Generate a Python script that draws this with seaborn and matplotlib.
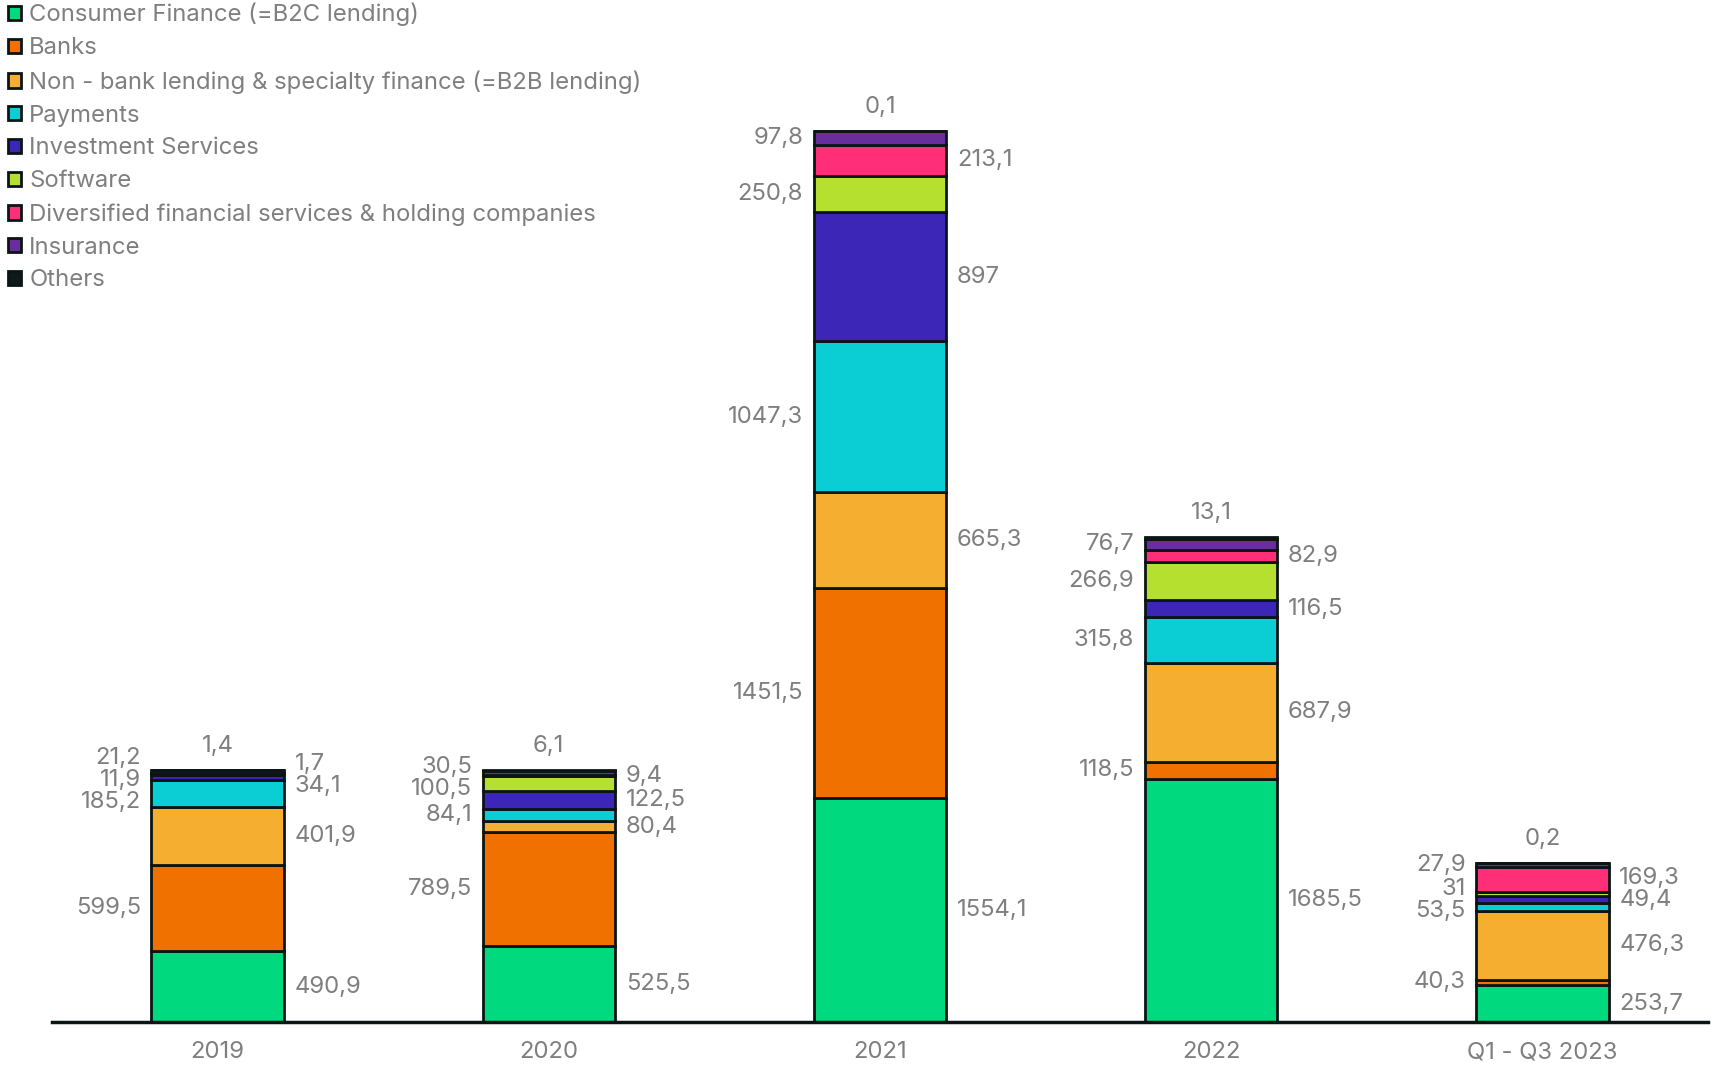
import matplotlib
matplotlib.use("Agg")
import matplotlib.pyplot as plt
import numpy as np
import pandas as pd
import seaborn as sns
from matplotlib.patches import Patch
from matplotlib.ticker import FixedLocator

# Funding volume by segment and period
periods = ["2019", "2020", "2021", "2022", "Q1 - Q3 2023"]
segment_names = [
    "Consumer Finance (=B2C lending)",
    "Banks",
    "Non - bank lending & specialty finance (=B2B lending)",
    "Payments",
    "Investment Services",
    "Software",
    "Diversified financial services & holding companies",
    "Insurance",
    "Others",
]
consumer_finance = [490.9, 525.5, 1554.1, 1685.5, 253.7]
banks = [599.5, 789.5, 1451.5, 118.5, 40.3]
non_bank_lending = [401.9, 80.4, 665.3, 687.9, 476.3]
payments = [185.2, 84.1, 1047.3, 315.8, 53.5]
investment_services = [34.1, 122.5, 897.0, 116.5, 49.4]
software = [11.9, 100.5, 250.8, 266.9, 31.0]
diversified = [1.7, 9.4, 213.1, 82.9, 169.3]
insurance = [21.2, 30.5, 97.8, 76.7, 27.9]
others = [1.4, 6.1, 0.1, 13.1, 0.2]

segment_colors = ["#00d97e", "#f07000", "#f5ae30", "#0bcdd4", "#3b26b8",
                  "#b5e030", "#ff2f77", "#6a2d9e", "#0e1a1a"]

series = [consumer_finance, banks, non_bank_lending, payments, investment_services,
          software, diversified, insurance, others]

text_gray = "#7f7f7f"
edge = "#0b1515"
font_size = 17.2

sns.set_style("white")
plt.rcParams["font.family"] = ["Inter", "DejaVu Sans"]

fig = plt.figure(figsize=(17.13, 10.66), dpi=100)
W, H = 1713, 1066
ax_left, ax_right, ax_bottom = 52, 1708, 1022
ax = fig.add_axes([ax_left / W, 1 - ax_bottom / H, (ax_right - ax_left) / W, ax_bottom / H])

bottoms = np.zeros(len(periods))
seg_bottoms = []
for name, vals, col in zip(segment_names, series, segment_colors):
    df = pd.DataFrame({"period": periods, "value": vals})
    sns.barplot(data=df, x="period", y="value", bottom=bottoms.copy(), color=col,
                width=0.4, edgecolor=edge, linewidth=2, saturation=1, ax=ax,
                errorbar=None, order=periods)
    seg_bottoms.append(bottoms.copy())
    bottoms = bottoms + np.array(vals)

ax.set_xlim(-0.5, len(periods) - 0.5)
ax.set_ylim(0, 7085)
ax.set_xlabel("")
ax.set_ylabel("")
ax.set_yticks([])
for s in ["left", "right", "top"]:
    ax.spines[s].set_visible(False)
ax.spines["bottom"].set_linewidth(2.5)
ax.spines["bottom"].set_color(edge)
ax.spines["bottom"].set_zorder(5)
ax.set_xticks(range(len(periods)))
ax.set_xticklabels(periods, fontsize=font_size, color=text_gray)
ax.tick_params(axis="x", which="major", length=0, pad=14)
ax.xaxis.set_minor_locator(FixedLocator(np.arange(-0.5, len(periods), 1.0)))
ax.tick_params(axis="x", which="minor", length=7, width=2.5, color=edge, direction="out")


def fmt(v):
    if float(v).is_integer():
        return str(int(v))
    return f"{v:.1f}".replace(".", ",")


def spread(targets, gap):
    """Spread label positions apart so neighbours keep at least `gap`."""
    order = sorted(range(len(targets)), key=lambda k: targets[k])
    clusters = [[k] for k in order]

    def place(c):
        m = np.mean([targets[k] for k in c])
        n = len(c)
        return [m + (j - (n - 1) / 2) * gap for j in range(n)]

    merged = True
    while merged:
        merged = False
        for i in range(len(clusters) - 1):
            a, b = place(clusters[i]), place(clusters[i + 1])
            if b[0] - a[-1] < gap - 1e-9:
                clusters[i] = clusters[i] + clusters[i + 1]
                del clusters[i + 1]
                merged = True
                break
    out = {}
    for c in clusters:
        for k, p in zip(c, place(c)):
            out[k] = p
    return [out[k] for k in range(len(targets))]


fig.canvas.draw()
px_per_unit = (ax.transData.transform((0, 1000))[1] - ax.transData.transform((0, 0))[1]) / 1000.0
gap_units = 22 / px_per_unit
top_offset = 24 / px_per_unit
dx = 0.032

n_series = len(series)
for i, period in enumerate(periods):
    for side in ("right", "left"):
        idxs = [s for s in range(n_series - 1) if (s % 2 == 0) == (side == "right")]
        targets = [seg_bottoms[s][i] + series[s][i] / 2 for s in idxs]
        ys = spread(targets, gap_units)
        for s, y in zip(idxs, ys):
            if side == "right":
                ax.text(i + 0.2 + dx, y, fmt(series[s][i]), ha="left", va="center",
                        fontsize=font_size, color=text_gray)
            else:
                ax.text(i - 0.2 - dx, y, fmt(series[s][i]), ha="right", va="center",
                        fontsize=font_size, color=text_gray)
    ax.text(i, bottoms[i] + top_offset, fmt(others[i]), ha="center", va="center",
            fontsize=font_size, color=text_gray)

handles = [Patch(facecolor=c, edgecolor=edge, linewidth=2) for c in segment_colors]
fig.legend(handles, segment_names, loc="upper left", bbox_to_anchor=(8 / W, 1 - 3 / H),
           frameon=False, fontsize=font_size, labelcolor=text_gray,
           handlelength=0.56, handleheight=0.56, handletextpad=0.33,
           labelspacing=0.455, borderpad=0, borderaxespad=0)

fig.savefig("out.png", dpi=100)
